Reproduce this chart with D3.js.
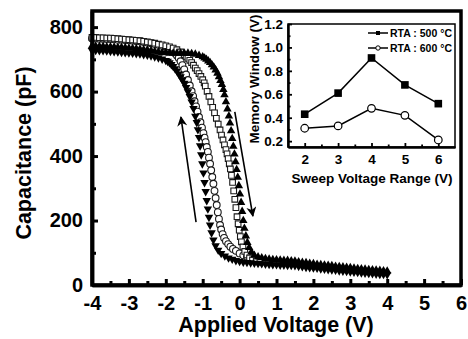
<!DOCTYPE html>
<html>
<head>
<meta charset="utf-8">
<script src="https://cdn.jsdelivr.net/npm/d3@7"></script>
<style>
body { margin: 0; background: #fff; }
svg { display: block; }
text { font-family: "Liberation Sans", Arial, sans-serif; font-weight: bold; fill: #000; }
</style>
</head>
<body>
<script>
// C-V sweeps, [voltage (V), capacitance (pF)]
// RTA 500 C, sweep -4 -> +4 (filled up triangles)
const up500 = [[-4,741],[-3.9,741],[-3.8,740],[-3.7,740],[-3.6,739],[-3.5,739],[-3.4,738],[-3.3,737],[-3.2,737],[-3.1,736],
  [-3,735],[-2.9,734],[-2.8,733],[-2.7,732],[-2.6,730],[-2.5,729],[-2.4,727],[-2.3,725],[-2.2,723],[-2.1,721],
  [-2,720],[-1.9,719],[-1.8,719],[-1.7,719],[-1.6,719],[-1.5,719],[-1.4,719],[-1.3,718],[-1.2,716],[-1.1,712],
  [-1,708],[-0.95,704],[-0.9,700],[-0.85,695],[-0.8,690],[-0.75,683],[-0.7,676],[-0.65,667],[-0.6,657],[-0.56,646],
  [-0.52,634],[-0.48,622],[-0.44,606],[-0.41,590],[-0.37,568],[-0.33,546],[-0.29,524],[-0.26,502],[-0.23,478],[-0.2,454],
  [-0.17,430],[-0.14,406],[-0.11,382],[-0.08,358],[-0.05,334],[-0.02,308],[0.01,282],[0.04,256],[0.07,228],[0.1,200],
  [0.13,176],[0.17,152],[0.21,132],[0.26,116],[0.32,102],[0.4,92],[0.5,87],[0.6,84],[0.7,82],[0.8,80],
  [0.9,79],[1,78],[1.1,77],[1.2,76],[1.3,76],[1.4,75],[1.5,74],[1.6,72],[1.7,70],[1.8,69],
  [1.9,67],[2,66],[2.1,64],[2.2,63],[2.3,62],[2.4,61],[2.5,60],[2.6,58],[2.7,57],[2.8,56],
  [2.9,55],[3,54],[3.1,52],[3.2,51],[3.3,50],[3.4,49],[3.5,48],[3.6,47],[3.7,46],[3.8,45],[3.9,44],[4,43]];
// RTA 500 C, sweep +4 -> -4 (filled down triangles)
const down500 = [[-4,728],[-3.9,728],[-3.8,727],[-3.7,727],[-3.6,726],[-3.5,725],[-3.4,724],[-3.3,723],[-3.2,722],[-3.1,721],
  [-3,720],[-2.9,719],[-2.8,718],[-2.7,717],[-2.6,715],[-2.5,713],[-2.4,711],[-2.3,708],[-2.2,705],[-2.1,701],
  [-2,697],[-1.95,694],[-1.9,690],[-1.85,684],[-1.8,678],[-1.75,671],[-1.7,664],[-1.65,655],[-1.6,646],[-1.55,636],
  [-1.5,626],[-1.45,613],[-1.4,600],[-1.35,585],[-1.3,568],[-1.25,548],[-1.2,524],[-1.16,504],[-1.13,482],[-1.1,458],
  [-1.07,432],[-1.04,404],[-1.01,376],[-0.98,348],[-0.95,318],[-0.92,290],[-0.89,262],[-0.86,236],[-0.83,210],[-0.8,186],
  [-0.76,162],[-0.71,140],[-0.65,122],[-0.58,108],[-0.5,98],[-0.4,90],[-0.3,84],[-0.2,80],[-0.1,76],[0,73],
  [0.1,71],[0.2,70],[0.3,69],[0.4,68],[0.5,67],[0.6,66],[0.7,65],[0.8,64],[0.9,63],[1,63],
  [1.1,62],[1.2,62],[1.3,61],[1.4,61],[1.5,60],[1.6,58],[1.7,57],[1.8,55],[1.9,54],[2,53],
  [2.1,52],[2.2,50],[2.3,49],[2.4,48],[2.5,47],[2.6,46],[2.7,44],[2.8,43],[2.9,42],[3,41],
  [3.1,40],[3.2,39],[3.3,38],[3.4,37],[3.5,36],[3.6,35],[3.7,34],[3.8,33],[3.9,33],[4,32]];
// RTA 600 C, sweep -4 -> +4 (open squares)
const up600 = [[-4,768],[-3.9,768],[-3.8,767],[-3.7,767],[-3.6,766],[-3.5,766],[-3.4,765],[-3.3,764],[-3.2,763],[-3.1,762],
  [-3,761],[-2.9,760],[-2.8,759],[-2.7,758],[-2.6,756],[-2.5,754],[-2.4,752],[-2.3,750],[-2.2,747],[-2.1,745],
  [-2,742],[-1.9,739],[-1.8,735],[-1.7,730],[-1.6,723],[-1.5,714],[-1.45,709],[-1.4,703],[-1.35,697],[-1.3,690],
  [-1.25,682],[-1.2,673],[-1.15,665],[-1.1,656],[-1.05,647],[-1,637],[-0.96,627],[-0.93,617],[-0.88,601],[-0.83,585],
  [-0.78,568],[-0.73,551],[-0.68,534],[-0.63,517],[-0.58,499],[-0.53,481],[-0.49,465],[-0.45,450],[-0.41,435],[-0.37,420],
  [-0.34,407],[-0.31,392],[-0.28,376],[-0.25,360],[-0.22,340],[-0.19,318],[-0.16,292],[-0.13,266],[-0.1,240],[-0.07,212],
  [-0.04,190],[-0.01,170],[0.02,150],[0.05,134],[0.09,118],[0.14,104],[0.2,93],[0.27,84],[0.35,78],[0.45,74],[0.55,71]];
// RTA 600 C, sweep +4 -> -4 (open circles)
const down600 = [[-4,765],[-3.9,765],[-3.8,764],[-3.7,764],[-3.6,763],[-3.5,763],[-3.4,762],[-3.3,761],[-3.2,761],[-3.1,760],
  [-3,759],[-2.9,758],[-2.8,757],[-2.7,756],[-2.6,754],[-2.5,752],[-2.4,750],[-2.3,748],[-2.2,745],[-2.1,742],
  [-2,739],[-1.95,736],[-1.9,733],[-1.85,729],[-1.8,724],[-1.75,719],[-1.7,712],[-1.65,704],[-1.6,694],[-1.55,682],
  [-1.5,669],[-1.45,653],[-1.4,636],[-1.35,619],[-1.3,601],[-1.26,586],[-1.22,570],[-1.18,554],[-1.14,538],[-1.1,521],
  [-1.06,505],[-1.02,488],[-0.98,471],[-0.95,457],[-0.92,443],[-0.89,428],[-0.86,413],[-0.83,395],[-0.8,376],[-0.77,356],
  [-0.74,335],[-0.71,314],[-0.68,292],[-0.65,270],[-0.62,248],[-0.59,226],[-0.56,205],[-0.53,186],[-0.5,172],[-0.46,158],
  [-0.42,146],[-0.37,136],[-0.31,127],[-0.25,119],[-0.18,112],[-0.1,106],[0,98],[0.1,92],[0.2,88],[0.3,84],[0.4,80],[0.5,77]];

// sweep direction arrows, [V, C] tail then head
const arrowUp = [[-1.18,195],[-1.59,521]];
const arrowDown = [[-0.13,537],[0.36,214]];

// inset: memory window vs sweep range
const sweepRange = [2, 3, 4, 5, 6];
const mw500 = [0.43, 0.61, 0.91, 0.68, 0.52];
const mw600 = [0.31, 0.33, 0.48, 0.42, 0.21];
const legendLabels = ["RTA : 500 \u00B0C", "RTA : 600 \u00B0C"];

const xTicks = [-4, -3, -2, -1, 0, 1, 2, 3, 4, 5, 6];
const yTicks = [0, 200, 400, 600, 800];
const insetXTicks = [2, 3, 4, 5, 6];
const insetYTicks = [0.2, 0.4, 0.6, 0.8, 1.0, 1.2];

const W = 468, H = 339;
const svg = d3.select("body").append("svg").attr("width", W).attr("height", H);

const x = d3.scaleLinear().domain([-4, 6]).range([92, 461]);
const y = d3.scaleLinear().domain([0, 850]).range([285, 11]);

// markers
const triSym = d3.symbol().type(d3.symbolTriangle).size(31);
const circSym = d3.symbol().type(d3.symbolCircle).size(36);
const sqSym = d3.symbol().type(d3.symbolSquare).size(32);

const plot = svg.append("g");

function drawOpen(data, sym) {
  plot.append("g").selectAll("path").data(data).join("path")
    .attr("d", sym)
    .attr("transform", d => `translate(${x(d[0])},${y(d[1])})`)
    .attr("fill", "#fff").attr("stroke", "#1a1a1a").attr("stroke-width", 1.1);
}
function drawTri(data, flip) {
  plot.append("g").selectAll("path").data(data).join("path")
    .attr("d", triSym)
    .attr("transform", d => `translate(${x(d[0])},${y(d[1])})` + (flip ? " rotate(180)" : ""))
    .attr("fill", "#000");
}
drawOpen(down600, circSym);
drawOpen(up600, sqSym);
drawTri(down500, true);
drawTri(up500, false);

// arrows
const defs = svg.append("defs");
defs.append("marker").attr("id", "ah").attr("viewBox", "0 0 10 10")
  .attr("refX", 9).attr("refY", 5).attr("markerWidth", 13).attr("markerHeight", 10)
  .attr("markerUnits", "userSpaceOnUse").attr("orient", "auto")
  .append("path").attr("d", "M0,0 L10,5 L0,10 L3,5 Z").attr("fill", "#000");
[arrowUp, arrowDown].forEach(a => {
  svg.append("line")
    .attr("x1", x(a[0][0])).attr("y1", y(a[0][1]))
    .attr("x2", x(a[1][0])).attr("y2", y(a[1][1]))
    .attr("stroke", "#000").attr("stroke-width", 1.6)
    .attr("marker-end", "url(#ah)");
});

// frame
svg.append("rect").attr("x", 92).attr("y", 11).attr("width", 461 - 92).attr("height", 285 - 11)
  .attr("fill", "none").attr("stroke", "#000").attr("stroke-width", 3.5);

const xAxis = svg.append("g").attr("transform", "translate(0,285)")
  .call(d3.axisBottom(x).tickValues(xTicks).tickSizeInner(-6).tickSizeOuter(0).tickPadding(11)
    .tickFormat(d => d < 0 ? "-" + Math.abs(d) : String(d)));
const xMinor = svg.append("g").attr("transform", "translate(0,285)")
  .call(d3.axisBottom(x).tickValues(d3.range(-3.5, 6, 1)).tickSizeInner(-4).tickSizeOuter(0).tickFormat(""));
const yAxis = svg.append("g").attr("transform", "translate(92,0)")
  .call(d3.axisLeft(y).tickValues(yTicks).tickSizeInner(-6).tickSizeOuter(0).tickPadding(9));
const yMinor = svg.append("g").attr("transform", "translate(92,0)")
  .call(d3.axisLeft(y).tickValues([100, 300, 500, 700]).tickSizeInner(-4).tickSizeOuter(0).tickFormat(""));
[xAxis, xMinor, yAxis, yMinor].forEach(g => {
  g.select(".domain").attr("stroke-width", 3.5);
  g.selectAll(".tick line").attr("stroke-width", 3);
  g.selectAll("text").style("font-size", "20px").attr("font-family", null);
});

svg.append("text").attr("x", 276).attr("y", 332).attr("text-anchor", "middle")
  .style("font-size", "21.5px").text("Applied Voltage (V)");
svg.append("text").attr("transform", "translate(31,153) rotate(-90)").attr("text-anchor", "middle")
  .style("font-size", "21.5px").text("Capacitance (pF)");

// inset
const xi = d3.scaleLinear().domain([1.5, 6.5]).range([288, 455]);
const yi = d3.scaleLinear().domain([0.15, 1.2]).range([147, 24]);
const inset = svg.append("g");
inset.append("rect").attr("x", 288).attr("y", 24).attr("width", 455 - 288).attr("height", 147 - 24)
  .attr("fill", "#fff").attr("stroke", "#000").attr("stroke-width", 1.5);

const ixAxis = inset.append("g").attr("transform", "translate(0,147)")
  .call(d3.axisBottom(xi).tickValues(insetXTicks).tickSizeInner(-4).tickSizeOuter(0).tickPadding(7).tickFormat(d3.format("d")));
const ixMinor = inset.append("g").attr("transform", "translate(0,147)")
  .call(d3.axisBottom(xi).tickValues([2.5, 3.5, 4.5, 5.5]).tickSizeInner(-2.5).tickSizeOuter(0).tickFormat(""));
const iyAxis = inset.append("g").attr("transform", "translate(288,0)")
  .call(d3.axisLeft(yi).tickValues(insetYTicks).tickSizeInner(-4).tickSizeOuter(0).tickPadding(5).tickFormat(d3.format(".1f")));
const iyMinor = inset.append("g").attr("transform", "translate(288,0)")
  .call(d3.axisLeft(yi).tickValues([0.3, 0.5, 0.7, 0.9, 1.1]).tickSizeInner(-2.5).tickSizeOuter(0).tickFormat(""));
[ixAxis, ixMinor, iyAxis, iyMinor].forEach(g => {
  g.select(".domain").attr("stroke-width", 2);
  g.selectAll(".tick line").attr("stroke-width", 1.8);
  g.selectAll("text").style("font-size", "13.5px").attr("font-family", null);
});

const iline = d3.line().x((d, i) => xi(sweepRange[i])).y(d => yi(d));
inset.append("path").attr("d", iline(mw500)).attr("fill", "none").attr("stroke", "#000").attr("stroke-width", 1.5);
inset.append("path").attr("d", iline(mw600)).attr("fill", "none").attr("stroke", "#000").attr("stroke-width", 1.5);
inset.selectAll(".sq").data(mw500).join("rect").attr("class", "sq")
  .attr("x", (d, i) => xi(sweepRange[i]) - 3.8).attr("y", d => yi(d) - 3.8)
  .attr("width", 7.6).attr("height", 7.6).attr("fill", "#000");
inset.selectAll(".ci").data(mw600).join("circle").attr("class", "ci")
  .attr("cx", (d, i) => xi(sweepRange[i])).attr("cy", d => yi(d)).attr("r", 3.8)
  .attr("fill", "#fff").attr("stroke", "#000").attr("stroke-width", 1.2);

// legend
legendLabels.forEach((lab, i) => {
  const ly = 33 + i * 15;
  inset.append("line").attr("x1", 368).attr("x2", 388).attr("y1", ly).attr("y2", ly)
    .attr("stroke", "#000").attr("stroke-width", 1.5);
  if (i === 0) inset.append("rect").attr("x", 376).attr("y", ly - 2).attr("width", 4).attr("height", 4).attr("fill", "#000");
  else inset.append("circle").attr("cx", 378).attr("cy", ly).attr("r", 2.2).attr("fill", "#fff").attr("stroke", "#000").attr("stroke-width", 1);
  inset.append("text").attr("x", 390).attr("y", ly + 4).style("font-size", "10.5px").text(lab);
});

inset.append("text").attr("x", 372).attr("y", 183).attr("text-anchor", "middle")
  .style("font-size", "13.5px").text("Sweep Voltage Range (V)");
inset.append("text").attr("transform", "translate(259,79) rotate(-90)").attr("text-anchor", "middle")
  .style("font-size", "13.5px").text("Memory Window (V)");
</script>
</body>
</html>
